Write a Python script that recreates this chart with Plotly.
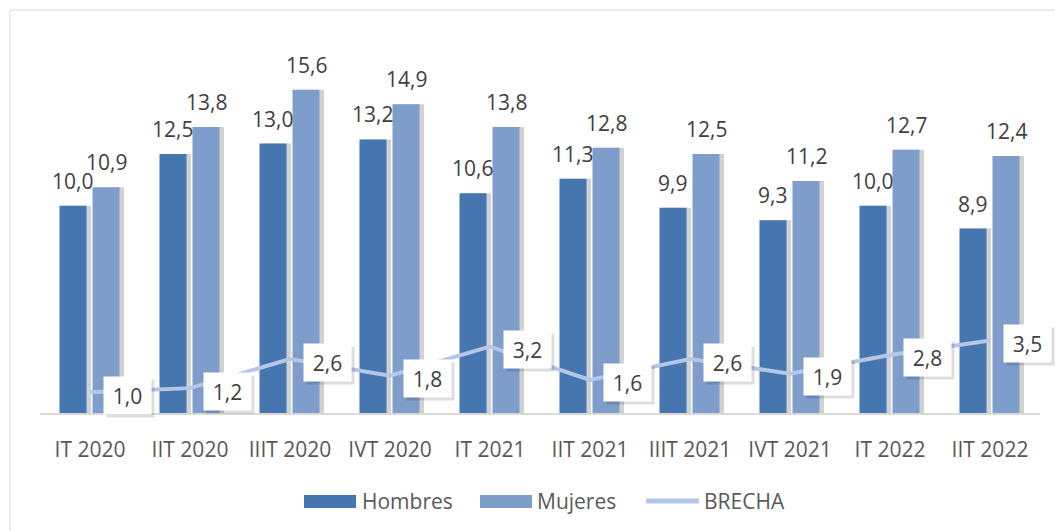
import plotly.graph_objects as go

categories = ["IT 2020", "IIT 2020", "IIIT 2020", "IVT 2020", "IT 2021",
              "IIT 2021", "IIIT 2021", "IVT 2021", "IT 2022", "IIT 2022"]
hombres = [10.0, 12.5, 13.0, 13.2, 10.6, 11.3, 9.9, 9.3, 10.0, 8.9]
mujeres = [10.9, 13.8, 15.6, 14.9, 13.8, 12.8, 12.5, 11.2, 12.7, 12.4]
brecha = [1.0, 1.2, 2.6, 1.8, 3.2, 1.6, 2.6, 1.9, 2.8, 3.5]

C_H = "#4676B0"
C_M = "#7F9DCA"
C_B = "#B4C7E7"
TXT = "#404040"
FONT = "Open Sans"
FS = 21

def fmt(v):
    return f"{v:.1f}".replace(".", ",")

fig = go.Figure()

# shadows
for vals, off in ((hombres, -0.305), (mujeres, 0.025)):
    fig.add_trace(go.Bar(x=categories, y=vals, offset=off + 0.045, width=0.27,
                         marker=dict(color="rgba(140,140,140,0.4)", line=dict(width=0)),
                         hoverinfo="skip", showlegend=False))

fig.add_trace(go.Bar(x=categories, y=hombres, name="Hombres", offset=-0.305, width=0.27,
                     marker=dict(color=C_H, line=dict(width=0)), showlegend=False))
fig.add_trace(go.Bar(x=categories, y=mujeres, name="Mujeres", offset=0.025, width=0.27,
                     marker=dict(color=C_M, line=dict(width=0)), showlegend=False))
fig.add_trace(go.Scatter(x=categories, y=brecha, name="BRECHA", mode="lines",
                         line=dict(color=C_B, width=4), showlegend=False))

annotations = []
for c, h, m, b in zip(categories, hombres, mujeres, brecha):
    annotations.append(dict(x=c, y=h, xref="x", yref="y", text=fmt(h), showarrow=False,
                            xshift=-18, yshift=9, yanchor="bottom",
                            font=dict(family=FONT, size=FS, color=TXT)))
    annotations.append(dict(x=c, y=m, xref="x", yref="y", text=fmt(m), showarrow=False,
                            xshift=16, yshift=9, yanchor="bottom",
                            font=dict(family=FONT, size=FS, color=TXT)))
    # shadow box
    annotations.append(dict(x=c, y=b, xref="x", yref="y", text=" ", showarrow=False,
                            xshift=40, yshift=-6, width=41, height=31, borderpad=3,
                            bgcolor="rgba(0,0,0,0.13)",
                            font=dict(family=FONT, size=FS, color=TXT)))
    annotations.append(dict(x=c, y=b, xref="x", yref="y", text=fmt(b), showarrow=False,
                            xshift=37, yshift=-3, width=41, height=31, borderpad=3,
                            bgcolor="white",
                            font=dict(family=FONT, size=FS, color=TXT)))

# custom legend (pixel -> paper)
L, W, B, H = 40, 1000, 413, 373
def px(x):
    return (x - L) / W
def py(y):
    return (B - y) / H

shapes = [
    dict(type="rect", xref="paper", yref="paper", x0=px(10), x1=px(1070), y0=py(10), y1=py(545),
         line=dict(color="#D9D9D9", width=1), fillcolor="rgba(0,0,0,0)", layer="below"),
    dict(type="rect", xref="paper", yref="paper", x0=px(304), x1=px(356), y0=py(508), y1=py(495),
         line=dict(width=0), fillcolor=C_H),
    dict(type="rect", xref="paper", yref="paper", x0=px(480), x1=px(532), y0=py(508), y1=py(495),
         line=dict(width=0), fillcolor=C_M),
    dict(type="line", xref="paper", yref="paper", x0=px(646), x1=px(699), y0=py(501), y1=py(501),
         line=dict(color=C_B, width=5)),
]
for label, xpos in (("Hombres", 360), ("Mujeres", 535), ("BRECHA", 702)):
    annotations.append(dict(x=px(xpos), y=py(501), xref="paper", yref="paper", text=label,
                            showarrow=False, xanchor="left", yanchor="middle",
                            font=dict(family=FONT, size=FS, color="#595959")))

fig.update_layout(
    width=1055, height=531,
    margin=dict(l=40, r=15, t=40, b=118),
    paper_bgcolor="white", plot_bgcolor="white",
    barmode="overlay",
    showlegend=False,
    annotations=annotations,
    shapes=shapes,
    xaxis=dict(type="category", showline=True, linecolor="#D9D9D9", linewidth=2,
               ticks="", showgrid=False, tickfont=dict(family=FONT, size=FS, color="#595959"),
               ticklabelstandoff=17, range=[-0.5, 9.5]),
    yaxis=dict(range=[0, 18], visible=False, showgrid=False, zeroline=False),
)

fig.write_html("out.html", config={"displayModeBar": False},
               post_script="document.body.style.margin='0';document.body.style.overflow='hidden';")
